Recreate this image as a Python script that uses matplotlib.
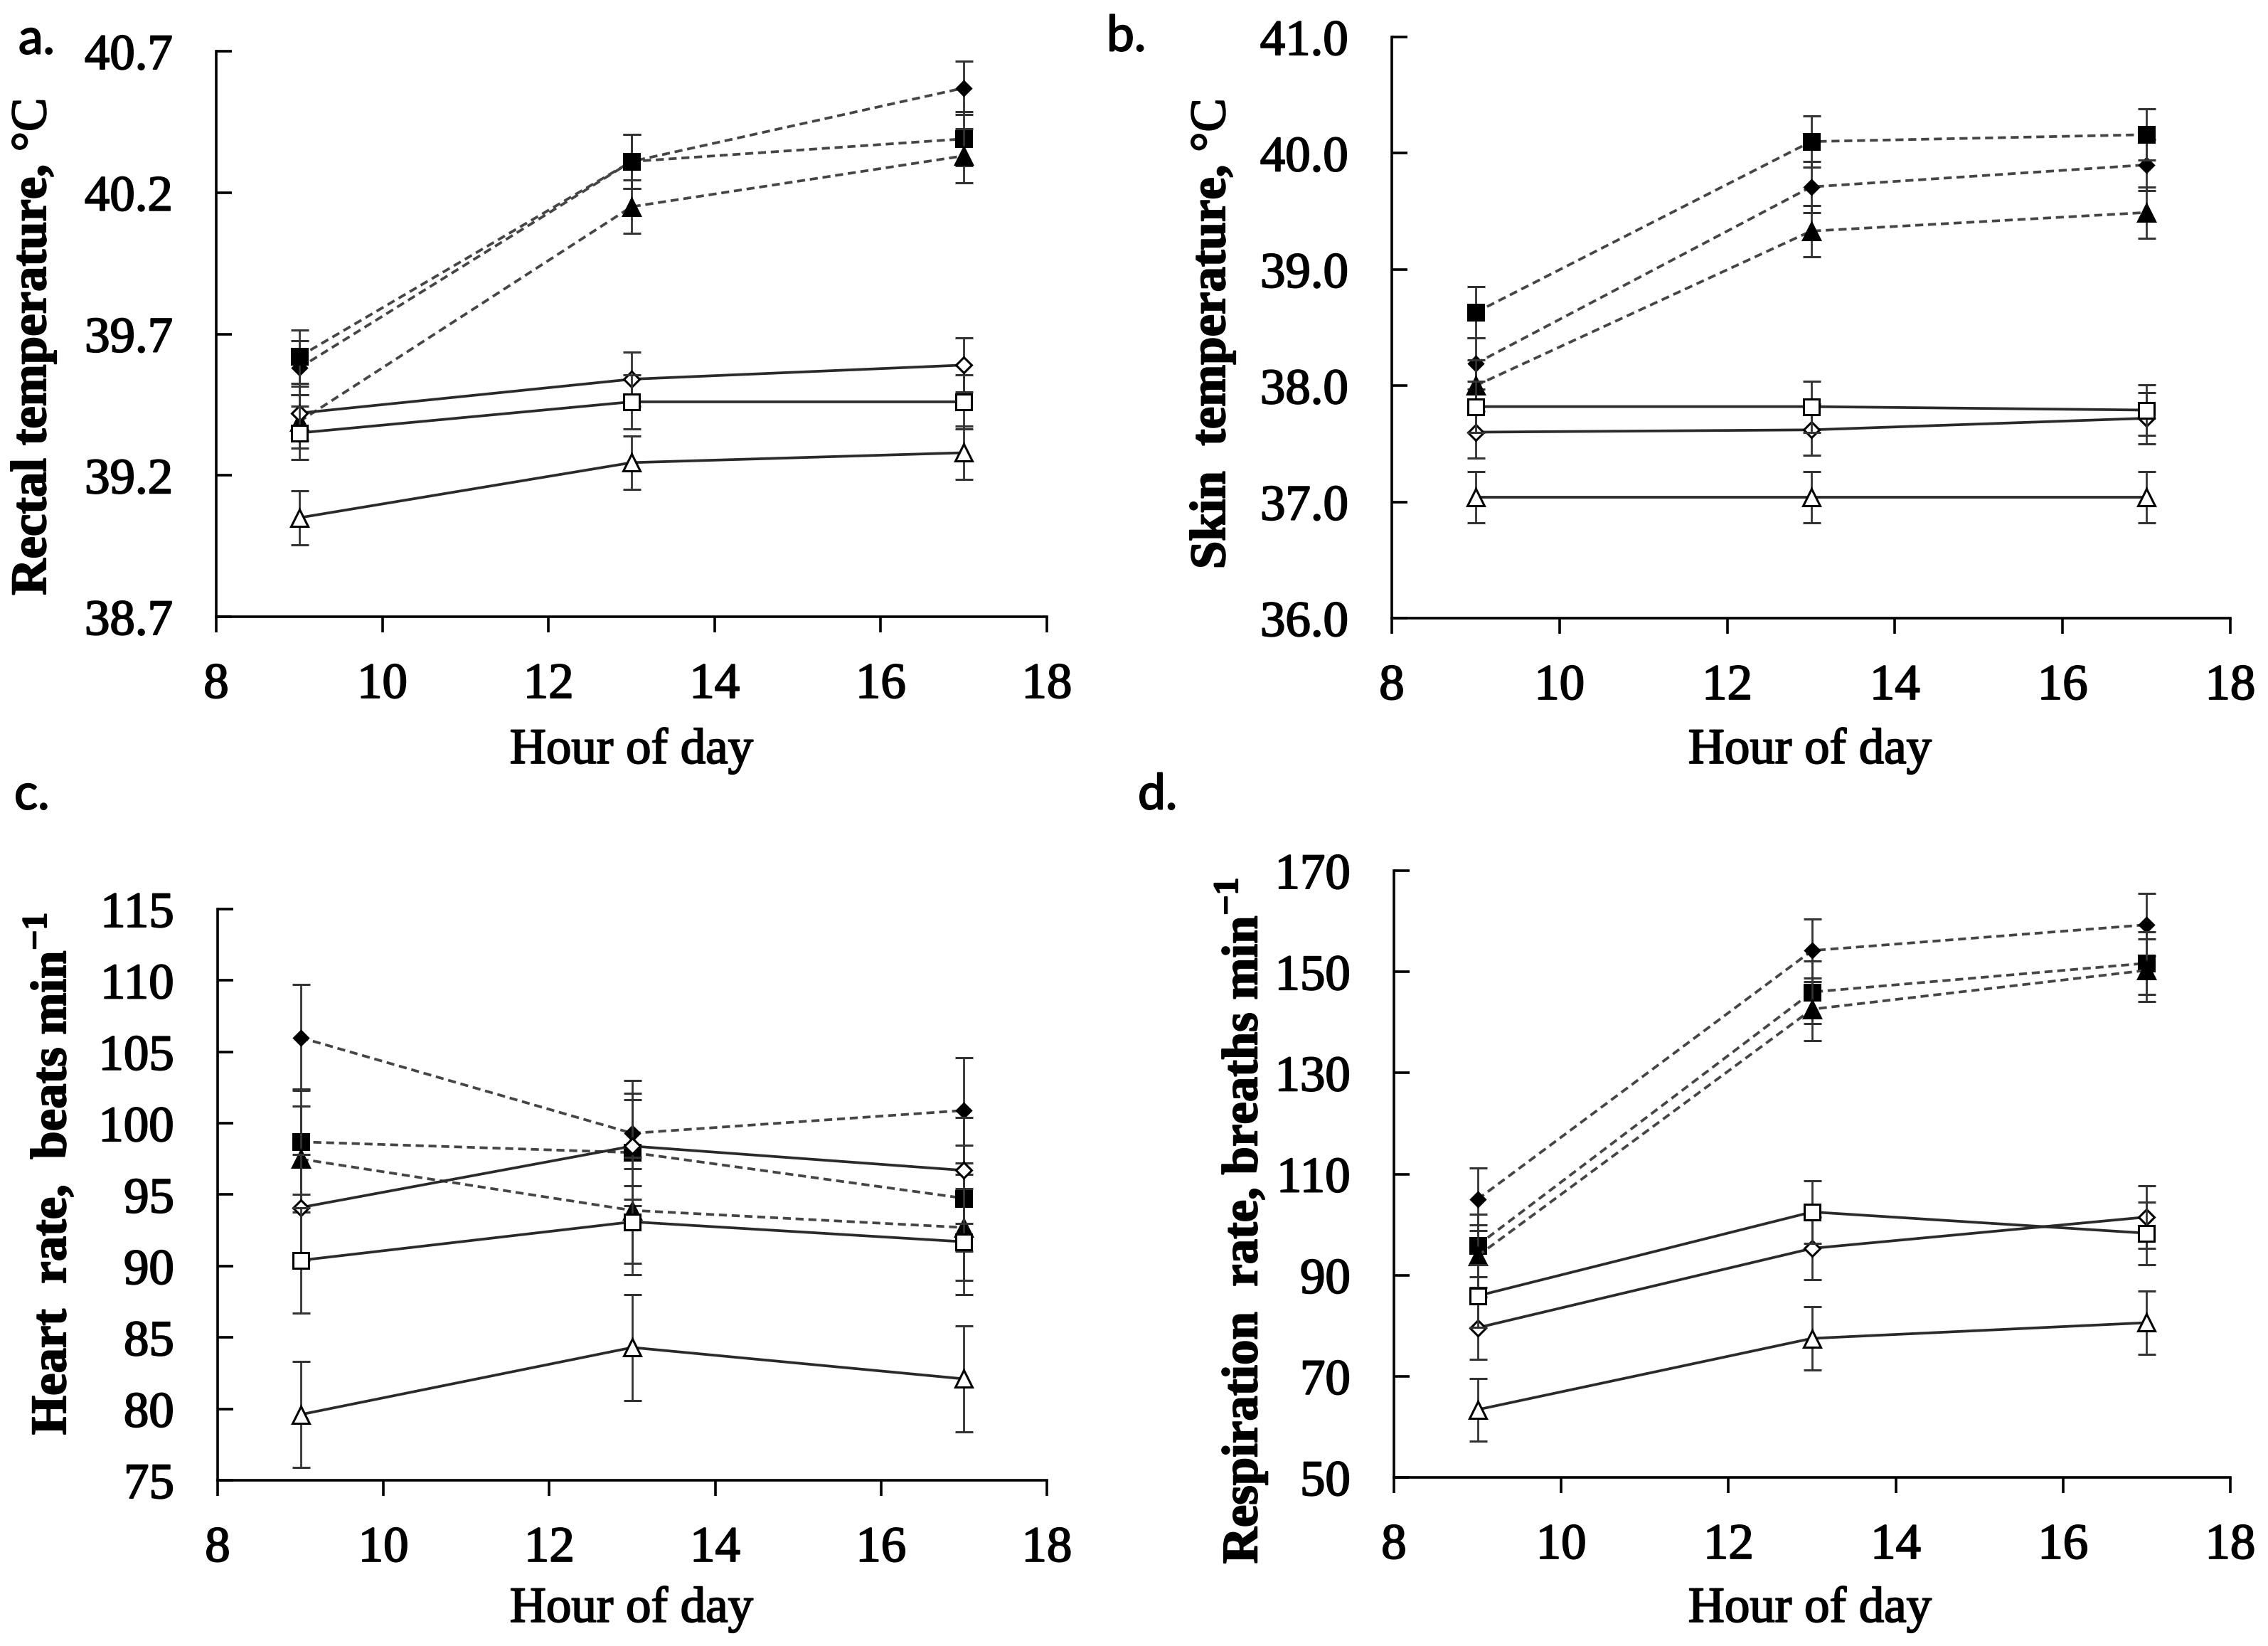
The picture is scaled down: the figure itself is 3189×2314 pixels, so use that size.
import matplotlib
matplotlib.use('Agg')
import matplotlib.pyplot as plt
import matplotlib.patheffects as pe
import numpy as np

SERIF = 'Liberation Serif'
plt.rcParams['font.family'] = SERIF
plt.rcParams['font.serif'] = [SERIF]
plt.rcParams['mathtext.fontset'] = 'custom'
plt.rcParams['mathtext.rm'] = SERIF
plt.rcParams['mathtext.bf'] = SERIF + ':bold'

W, H = 3189, 2314

hours = [9, 13, 17]
x_ticks = [8, 10, 12, 14, 16, 18]

# series order: filled diamond, filled square, filled triangle (dashed),
#               open diamond, open square, open triangle (solid)
rectal_means = [
    [39.58, 40.31, 40.57],
    [39.62, 40.31, 40.39],
    [39.39, 40.15, 40.33],
    [39.42, 39.54, 39.59],
    [39.35, 39.46, 39.46],
    [39.05, 39.245, 39.28],
]
rectal_se = [0.095] * 6
rectal_ticks = [38.7, 39.2, 39.7, 40.2, 40.7]

skin_means = [
    [38.19, 39.71, 39.90],
    [38.63, 40.10, 40.16],
    [38.00, 39.33, 39.49],
    [37.60, 37.62, 37.72],
    [37.82, 37.82, 37.79],
    [37.04, 37.04, 37.04],
]
skin_se = [0.22] * 6
skin_ticks = [36.0, 37.0, 38.0, 39.0, 40.0, 41.0]

heart_means = [
    [106.0, 99.3, 100.9],
    [98.7, 97.95, 94.75],
    [97.5, 93.9, 92.7],
    [94.1, 98.4, 96.7],
    [90.4, 93.1, 91.7],
    [79.6, 84.3, 82.1],
]
heart_se = [3.7] * 6
heart_ticks = [75, 80, 85, 90, 95, 100, 105, 110, 115]

resp_means = [
    [105.0, 154.2, 159.3],
    [95.9, 146.0, 151.7],
    [93.8, 142.6, 150.3],
    [79.6, 95.3, 101.5],
    [85.9, 102.5, 98.3],
    [63.4, 77.5, 80.6],
]
resp_se = [6.2] * 6
resp_ticks = [50, 70, 90, 110, 130, 150, 170]

markers = ['D', 's', '^', 'D', 's', '^']
msizes = [5.0, 8.2, 8.4, 5.8, 8.2, 8.4]
faces = ['black', 'black', 'black', 'white', 'white', 'white']
styles = [(0, (3.0, 1.8))] * 3 + ['-'] * 3
lcolors = ['#454545'] * 3 + ['#2a2a2a'] * 3

heavy = [pe.withStroke(linewidth=0.7, foreground='black')]

fig = plt.figure(figsize=(W / 200, H / 200), dpi=200)


def px_axes(l, r, t, b):
    return fig.add_axes([l / W, 1 - b / H, (r - l) / W, (b - t) / H])


def panel(ax, means, se, yticks, fmt):
    for i in range(6):
        ax.errorbar(hours, means[i], yerr=se[i], marker=markers[i], ms=msizes[i],
                    mfc=faces[i], mec='black', mew=1.1, color=lcolors[i],
                    linestyle=styles[i], lw=1.35, ecolor='#333333',
                    elinewidth=1.0, capsize=4.5, capthick=1.0, zorder=3 + i)
    ax.set_xlim(8, 18)
    ax.set_ylim(yticks[0], yticks[-1])
    ax.set_xticks(x_ticks)
    ax.set_xticklabels([str(v) for v in x_ticks], family=SERIF)
    ax.set_yticks(yticks)
    ax.set_yticklabels([fmt % v for v in yticks], family=SERIF)
    for lab in ax.get_xticklabels() + ax.get_yticklabels():
        lab.set_path_effects(heavy)
    for s in ['top', 'right']:
        ax.spines[s].set_visible(False)
    for s in ['left', 'bottom']:
        ax.spines[s].set_linewidth(1.3)
    ax.tick_params(axis='x', direction='out', length=8, width=1.3, pad=15,
                   labelsize=25.5)
    ax.tick_params(axis='y', direction='in', length=8, width=1.3, pad=22,
                   labelsize=25.5)


ax_a = px_axes(304, 1472, 72, 867)
panel(ax_a, rectal_means, rectal_se, rectal_ticks, '%.1f')
ax_b = px_axes(1957, 3136, 52, 869)
panel(ax_b, skin_means, skin_se, skin_ticks, '%.1f')
ax_c = px_axes(306, 1472, 1278, 2081)
panel(ax_c, heart_means, heart_se, heart_ticks, '%d')
ax_d = px_axes(1960, 3136, 1224, 2077)
panel(ax_d, resp_means, resp_se, resp_ticks, '%d')


def ftext(x, y, s, **kw):
    kw.setdefault('family', SERIF)
    kw.setdefault('path_effects', heavy)
    fig.text(x / W, 1 - y / H, s, **kw)


# y labels
ftext(47, 488, r'Rectal temperature, $\mathrm{°C}$', rotation=90, ha='center',
      va='center', fontsize=25.5, fontweight='bold')
ftext(1705, 470, r'Skin  temperature, $\mathrm{°C}$', rotation=90, ha='center',
      va='center', fontsize=25.5, fontweight='bold')
ftext(70, 1650, r'Heart  rate,  beats min$^{\mathbf{-1}}$', rotation=90,
      ha='center', va='center', fontsize=25.5, fontweight='bold')
ftext(1745, 1716, r'Respiration  rate, breaths min$^{\mathbf{-1}}$', rotation=90,
      ha='center', va='center', fontsize=25.5, fontweight='bold')

# x labels
for xc, yc in [(888, 1055), (2545, 1055), (888, 2262), (2545, 2262)]:
    ftext(xc, yc, 'Hour of day', ha='center', va='center', fontsize=25.5)

# panel letters
for s, xl, yl in [('a.', 26, 56), ('b.', 1556, 52), ('c.', 20, 1118), ('d.', 1600, 1118)]:
    ftext(xl, yl, s, ha='left', va='center', fontsize=25, family=['Lato', 'DejaVu Sans'])

fig.savefig('out.png', dpi=200, facecolor='white')
